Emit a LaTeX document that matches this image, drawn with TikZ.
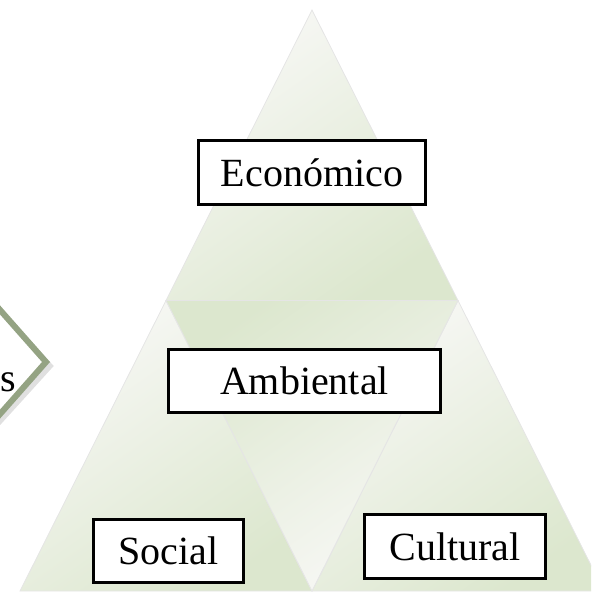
\documentclass[tikz,border=0pt]{standalone}
\usepackage{fontspec}
\setmainfont{Liberation Serif}
\definecolor{pyrlight}{HTML}{F8F8F6}
\definecolor{pyrgreen}{HTML}{DCE7CE}
\definecolor{chevgreen}{HTML}{94A383}

\begin{document}
\begin{tikzpicture}[x=1pt,y=-1pt,
    seg/.style={draw=black!10, line width=0.8pt, top color=pyrlight, middle color=pyrlight!70!pyrgreen, bottom color=pyrgreen, shading angle=35},
    segflip/.style={seg, shading angle=215},
    dimbox/.style={draw, line width=3.2pt, fill=white, inner sep=0pt, font=\fontsize{40}{48}\selectfont}]
  \useasboundingbox (0,0) rectangle (591,593);
  \clip (0,0) rectangle (591,593);
  % Chevron on the left (cut off)
  \draw[black!35, opacity=.35, line width=7pt] (-60,246) -- (49,366) -- (-60,486);
  \draw[chevgreen, line width=6pt, fill=white, line join=miter] (-60,242) -- (46,362) -- (-60,482);
  \node[anchor=base west, inner sep=0pt, font=\fontsize{40}{48}\selectfont] (dim) at (0,391) {s};
  % Pyramid segments
  \coordinate (apex) at (312,10);
  \coordinate (ml) at (166,300.5);
  \coordinate (mr) at (458,300.5);
  \coordinate (bl) at (20,591);
  \coordinate (bm) at (312,591);
  \coordinate (br) at (604,591);
  \path[seg] (apex) -- (ml) -- (mr) -- cycle;
  \path[seg] (ml) -- (bl) -- (bm) -- cycle;
  \path[seg] (mr) -- (bm) -- (br) -- cycle;
  \path[segflip] (ml) -- (mr) -- (bm) -- cycle;
  % Labels
  \node[dimbox, minimum width=227pt, minimum height=64pt] (econ) at (312,172.5) {Económico};
  \node[dimbox, minimum width=272pt, minimum height=63pt] (amb) at (304.5,381) {Ambiental};
  \node[dimbox, minimum width=150pt, minimum height=63pt] (soc) at (168.5,551) {Social};
  \node[dimbox, minimum width=181pt, minimum height=64pt] (cult) at (455,546.5) {Cultural};
\end{tikzpicture}
\end{document}
